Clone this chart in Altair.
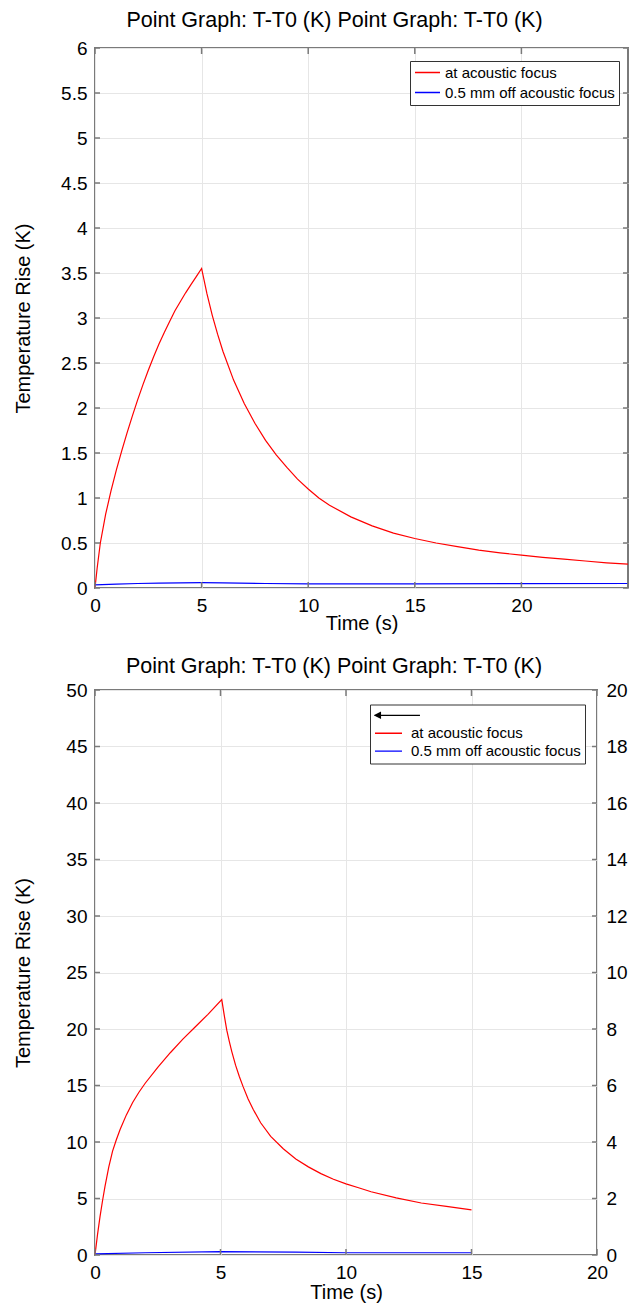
import altair as alt
import pandas as pd

FONT = "Liberation Sans"
FRAME = "#7a7a7a"
GRID = "#e6e6e6"

TITLE_TEXT = "Point Graph: T-T0 (K) Point Graph: T-T0 (K)"
X_TITLE = "Time (s)"
Y_TITLE = "Temperature Rise (K)"
SERIES = ["at acoustic focus", "0.5 mm off acoustic focus"]
SERIES_COLORS = ["#ff0000", "#0000ff"]
ARROW_KEY = "arrow"
ARROW_COLOR = "#000000"
LINE_PATH = "M-1,0L1,0"
ARROW_PATH = "M-1,0L2.33,0M-1,0L-0.6,-0.2L-0.6,0.2Z"

# ---------------- top chart data ----------------
top_red_t = [0, 0.1, 0.25, 0.5, 0.75, 1.0, 1.25, 1.5, 1.75, 2.0, 2.25, 2.5, 2.75, 3.0, 3.25, 3.5,
             3.75, 4.0, 4.25, 4.5, 4.75, 5.0,
             5.25, 5.5, 5.75, 6.0, 6.5, 7.0, 7.5, 8.0, 8.5, 9.0, 9.5, 10.0, 10.5, 11.0, 12.0,
             13.0, 14.0, 15.0, 16.0, 17.0, 18.0, 19.0, 20.0, 21.0, 22.0, 23.0, 24.0, 25.0]
top_red_v = [0, 0.22, 0.5, 0.82, 1.08, 1.31, 1.52, 1.72, 1.91, 2.09, 2.26, 2.42, 2.57, 2.71, 2.84, 2.96,
             3.08, 3.18, 3.28, 3.37, 3.46, 3.55,
             3.27, 3.03, 2.82, 2.63, 2.31, 2.05, 1.83, 1.64, 1.48, 1.34, 1.21, 1.10, 1.00, 0.92, 0.79,
             0.69, 0.61, 0.55, 0.50, 0.46, 0.42, 0.39, 0.365, 0.34, 0.32, 0.30, 0.28, 0.265]
top_blue_t = [0, 1, 2, 3, 4, 5, 6, 8, 10, 15, 20, 25]
top_blue_v = [0.035, 0.042, 0.05, 0.055, 0.058, 0.06, 0.057, 0.05, 0.046, 0.045, 0.048, 0.05]

top_x_ticks = [0, 5, 10, 15, 20]
top_x_edge_ticks = [0, 5, 10, 15, 20, 25]
top_y_ticks = [0, 0.5, 1, 1.5, 2, 2.5, 3, 3.5, 4, 4.5, 5, 5.5, 6]
top_x_domain = [0, 25]
top_y_domain = [0, 6]

# ---------------- bottom chart data ----------------
bot_red_t = [0, 0.1, 0.2, 0.3, 0.4, 0.55, 0.7, 0.85, 1.0, 1.25, 1.5, 1.75, 2.0, 2.5, 3.0, 3.5, 4.0,
             4.5, 5.05,
             5.15, 5.25, 5.35, 5.45, 5.6, 5.75, 5.9, 6.1, 6.3, 6.6, 7.0, 7.5, 8.0, 8.5, 9.0, 9.5,
             10.0, 10.5, 11.0, 12.0, 13.0, 14.0, 15.0]
bot_red_v = [0, 1.8, 3.4, 4.8, 6.1, 7.8, 9.2, 10.2, 11.1, 12.4, 13.5, 14.4, 15.2, 16.6, 17.9, 19.1, 20.2,
             21.3, 22.6,
             21.2, 19.9, 18.9, 18.0, 16.8, 15.8, 14.9, 13.8, 12.9, 11.7, 10.5, 9.4, 8.5, 7.8, 7.2, 6.7,
             6.3, 5.95, 5.6, 5.05, 4.6, 4.3, 4.0]
bot_blue_t = [0, 2, 5, 8, 10, 15]
bot_blue_v = [0.1, 0.2, 0.3, 0.25, 0.2, 0.2]

bot_x_ticks = [0, 5, 10, 15, 20]
bot_y_ticks = [0, 5, 10, 15, 20, 25, 30, 35, 40, 45, 50]
bot_y2_ticks = [0, 2, 4, 6, 8, 10, 12, 14, 16, 18, 20]
bot_x_domain = [0, 20]
bot_y_domain = [0, 50]
bot_y2_domain = [0, 20]

W1, H1 = 533, 540
W2, H2 = 502, 565
TICK_LEN = 5
SPACING = 20


def frame_of(t, v, name):
    return pd.DataFrame({"t": t, "v": v, "series": name, "i": range(len(t))})


def tick_layers(x_vals, y_vals, W, H, right=True):
    dx = pd.DataFrame({"t": x_vals})
    dy = pd.DataFrame({"v": y_vals})
    base_x = alt.Chart(dx).mark_rule(color=FRAME, strokeWidth=1.5)
    base_y = alt.Chart(dy).mark_rule(color=FRAME, strokeWidth=1.5)
    layers = [
        base_y.encode(y="v:Q", x=alt.value(0), x2=alt.value(TICK_LEN)),
        base_x.encode(x="t:Q", y=alt.value(0), y2=alt.value(TICK_LEN + 1)),
        base_x.encode(x="t:Q", y=alt.value(H - TICK_LEN - 1), y2=alt.value(H)),
    ]
    if right:
        layers.append(base_y.encode(y="v:Q", x=alt.value(W - TICK_LEN), x2=alt.value(W)))
    return layers


def line_layers(dfs, x_domain, y_domain, x_ticks, y_ticks, x_title_y):
    x_enc = alt.X("t:Q", scale=alt.Scale(domain=x_domain, nice=False, zero=False),
                  axis=alt.Axis(values=x_ticks, format="~g", title=X_TITLE, titleY=x_title_y,
                                titleBaseline="middle", labelFlush=False))
    y_enc = alt.Y("v:Q", scale=alt.Scale(domain=y_domain, nice=False, zero=False),
                  axis=alt.Axis(values=y_ticks, format="~g", title=Y_TITLE, titleX=-72,
                                titleBaseline="middle", labelFlush=False))
    out = []
    for df, col in zip(dfs, SERIES_COLORS):
        out.append(alt.Chart(df).mark_line(strokeWidth=1.2, color=col).encode(
            x=x_enc, y=y_enc, order=alt.Order("i:Q")))
    return out


def legend_def(x, y, **props):
    return alt.Legend(
        title=None, orient="none", legendX=x, legendY=y,
        fillColor="white", strokeColor="#333333", labelFont=FONT, labelFontSize=15,
        labelColor="black", labelLimit=400, symbolStrokeWidth=1.3, padding=4,
        labelExpr="datum.label == 'arrow' ? '' : datum.label",
        **props,
    )


# ---------------- top panel ----------------
top_dfs = [frame_of(top_red_t, top_red_v, SERIES[0]), frame_of(top_blue_t, top_blue_v, SERIES[1])]
top_lines = line_layers(top_dfs, top_x_domain, top_y_domain, top_x_ticks, top_y_ticks, 35)
top_leg = legend_def(315, 13, symbolType=LINE_PATH, symbolSize=625, clipHeight=15,
                     rowPadding=4, labelOffset=4)
top_key = alt.Chart(pd.concat(top_dfs)).transform_filter("false").mark_point(
    filled=False, opacity=1, strokeWidth=1.3
).encode(
    x="t:Q", y="v:Q",
    color=alt.Color("series:N", scale=alt.Scale(domain=SERIES, range=SERIES_COLORS), legend=top_leg),
)
top_chart = alt.layer(*top_lines, top_key, *tick_layers(top_x_edge_ticks, top_y_ticks, W1, H1)).properties(
    width=W1, height=H1,
    title=alt.TitleParams(TITLE_TEXT, font=FONT, fontSize=21.5, fontWeight="normal", color="black",
                          anchor="middle", frame="group", dx=-27, offset=-9, baseline="alphabetic"),
)

# ---------------- bottom panel ----------------
bot_dfs = [frame_of(bot_red_t, bot_red_v, SERIES[0]), frame_of(bot_blue_t, bot_blue_v, SERIES[1])]
bot_lines = line_layers(bot_dfs, bot_x_domain, bot_y_domain, bot_x_ticks, bot_y_ticks, 37)
# legend of the lower panel lives at the root group, whose origin is the upper plot's corner
bot_leg_y = H1 + 13 + (690.2 - 46.7 - H1)
bot_leg = legend_def(275, bot_leg_y, symbolSize=729, clipHeight=13.7, rowPadding=1.9, labelOffset=8)
key_domain = [ARROW_KEY] + SERIES
key_colors = [ARROW_COLOR] + SERIES_COLORS
bot_key = alt.Chart(pd.concat(bot_dfs)).transform_filter("false").mark_point(
    opacity=1, strokeWidth=1.3
).encode(
    x="t:Q", y="v:Q",
    stroke=alt.Stroke("series:N", scale=alt.Scale(domain=key_domain, range=key_colors), legend=bot_leg),
    fill=alt.Fill("series:N", scale=alt.Scale(domain=key_domain, range=key_colors), legend=bot_leg),
    shape=alt.Shape("series:N", scale=alt.Scale(domain=key_domain,
                                                range=[ARROW_PATH, LINE_PATH, LINE_PATH]), legend=bot_leg),
)
inner = alt.layer(*bot_lines, bot_key, *tick_layers(bot_x_ticks, bot_y_ticks, W2, H2, right=False))
right_ticks = alt.Chart(pd.DataFrame({"r": bot_y2_ticks})).mark_rule(color=FRAME, strokeWidth=1.5).encode(
    y=alt.Y("r:Q", scale=alt.Scale(domain=bot_y2_domain, nice=False, zero=False),
            axis=alt.Axis(orient="right", values=bot_y2_ticks, format="~g", grid=False, title=None,
                          labelPadding=9, labelFlush=False)),
    x=alt.value(W2 - TICK_LEN), x2=alt.value(W2),
)
bottom_chart = alt.layer(inner, right_ticks).resolve_scale(y="independent").properties(
    width=W2, height=H2,
    title=alt.TitleParams(TITLE_TEXT, font=FONT, fontSize=21.5, fontWeight="normal", color="black",
                          anchor="middle", frame="group", dx=-12, offset=-13, baseline="alphabetic"),
)

chart = alt.vconcat(top_chart, bottom_chart, spacing=SPACING).properties(
    padding={"left": 4, "top": 0, "right": 2, "bottom": 0}
).configure(font=FONT).configure_view(
    stroke=FRAME, strokeWidth=2
).configure_axis(
    labelFont=FONT, labelFontSize=19, labelColor="black", titleFont=FONT, titleFontSize=20,
    titleFontWeight="normal", titleColor="black", grid=True, gridColor=GRID, gridWidth=1,
    domain=False, ticks=False, labelPadding=8,
)

chart.save("out.html", embed_options={"renderer": "svg", "actions": False})
